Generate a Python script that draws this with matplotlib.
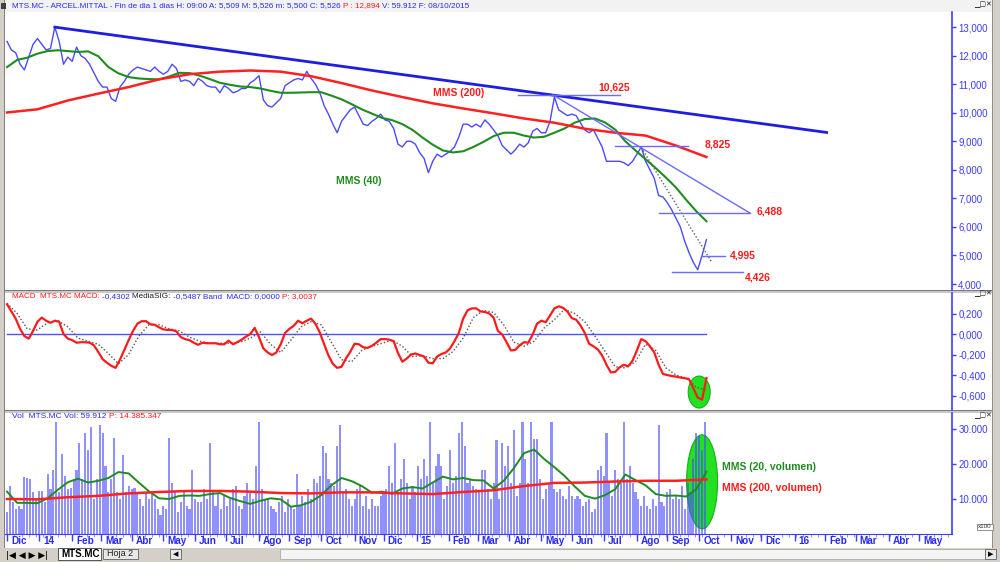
import numpy as np
import pandas as pd
import matplotlib
matplotlib.use('Agg')
import matplotlib.pyplot as plt
from matplotlib.patches import Rectangle, Ellipse
from matplotlib.transforms import offset_copy

plt.rcParams['font.family'] = ['Liberation Sans', 'DejaVu Sans']

# ---------------- data ----------------
start_date = '2013-12-02'          # first session shown
axis_end_date = '2016-06-30'

price_step = 3                     # sessions between price samples
price = [12.5, 12.2, 12.1, 11.7, 11.5, 11.95, 12.4, 12.6, 12.4, 12.2,
         12.25, 13.0, 12.5, 11.7, 11.95, 11.8, 12.3, 12.0, 11.9, 11.7,
         11.4, 11.1, 10.9, 10.9, 10.5, 10.4, 10.9, 11.1, 11.35, 11.5,
         11.6, 11.55, 11.5, 11.45, 11.6, 11.45, 11.35, 11.45, 11.7, 11.55,
         11.1, 11.15, 11.1, 10.95, 11.2, 11.1, 10.95, 10.9, 10.9, 10.7,
         10.95, 10.85, 10.7, 10.75, 10.85, 10.85, 11.05, 11.15, 11.3, 10.45,
         10.25, 10.2, 10.35, 10.5, 10.95, 11.05, 11.15, 11.2, 11.15, 11.45,
         11.2, 11.0, 10.7, 10.25, 9.95, 9.6, 9.3, 9.7, 9.9, 10.1,
         10.2, 9.9, 9.6, 9.55, 9.7, 9.8, 9.95, 9.75, 9.7, 9.45,
         8.9, 8.8, 9.0, 9.0, 8.9, 8.6, 8.4, 7.9, 8.3, 8.55,
         8.45, 8.55, 8.65, 8.8, 9.15, 9.6, 9.6, 9.5, 9.6, 9.5,
         9.75, 9.6, 9.4, 9.2, 8.85, 8.7, 8.55, 8.7, 8.9, 8.8,
         8.95, 9.35, 9.45, 9.3, 9.3, 9.7, 10.55, 10.1, 10.0, 9.9,
         9.95, 9.9, 9.65, 9.4, 9.3, 9.4, 9.1, 8.8, 8.3, 8.3,
         8.3, 8.3, 8.25, 8.15, 8.3, 8.55, 8.8, 8.3, 8.0, 7.7,
         7.1, 7.05, 6.85, 6.6, 6.3, 6.0, 5.5, 5.1, 4.75, 4.5,
         5.0, 5.55]

ma40_step = 7
ma40 = [11.6, 11.85, 11.93, 12.07, 12.16, 12.19, 12.16, 12.13, 12.15, 11.98,
        11.6, 11.38, 11.25, 11.2, 11.18, 11.17, 11.27, 11.4, 11.39, 11.3,
        11.18, 11.05, 10.98, 10.92, 10.9, 10.85, 10.77, 10.7, 10.7, 10.71,
        10.72, 10.72, 10.6, 10.47, 10.3, 10.12, 9.97, 9.82, 9.74, 9.6,
        9.4, 9.13, 8.88, 8.68, 8.61, 8.65, 8.8, 8.98, 9.18, 9.3,
        9.3, 9.2, 9.13, 9.16, 9.3, 9.45, 9.65, 9.78, 9.8, 9.66,
        9.41, 9.0, 8.68, 8.37, 8.06, 7.73, 7.38, 6.95, 6.55, 6.2]

ma200_step = 21
ma200 = [10.01, 10.12, 10.43, 10.67, 10.9, 11.17, 11.35, 11.44, 11.48, 11.44,
         11.28, 11.04, 10.78, 10.55, 10.33, 10.15, 9.98, 9.8, 9.65, 9.44,
         9.3, 9.2, 8.85, 8.45]

macd_step = 3
macd = [0.29, 0.22, 0.15, 0.05, -0.02, -0.045, 0.03, 0.12, 0.16, 0.13,
        0.11, 0.13, 0.12, 0.0, -0.045, -0.06, -0.085, -0.08, -0.08, -0.085,
        -0.11, -0.175, -0.245, -0.28, -0.31, -0.33, -0.25, -0.155, -0.06, 0.03,
        0.1, 0.125, 0.125, 0.095, 0.09, 0.065, 0.045, 0.04, 0.04, 0.025,
        -0.03, -0.05, -0.06, -0.085, -0.105, -0.085, -0.09, -0.09, -0.09, -0.1,
        -0.1, -0.065, -0.1, -0.08, -0.055, -0.025, 0.0, 0.06, -0.03, -0.14,
        -0.18, -0.205, -0.18, -0.1, 0.01, 0.05, 0.08, 0.13, 0.105, 0.13,
        0.15, 0.1, 0.015, -0.1, -0.21, -0.29, -0.33, -0.32, -0.24, -0.175,
        -0.095, -0.1, -0.13, -0.135, -0.115, -0.085, -0.05, -0.05, -0.055, -0.07,
        -0.185, -0.27, -0.24, -0.2, -0.19, -0.205, -0.22, -0.28, -0.285, -0.22,
        -0.195, -0.18, -0.14, -0.07, 0.01, 0.15, 0.23, 0.25, 0.25, 0.22,
        0.215, 0.2, 0.16, 0.03, -0.005, -0.08, -0.16, -0.155, -0.11, -0.08,
        -0.085, -0.005, 0.1, 0.13, 0.115, 0.18, 0.25, 0.27, 0.255, 0.22,
        0.155, 0.14, 0.085, 0.01, -0.095, -0.12, -0.15, -0.21, -0.3, -0.375,
        -0.37, -0.325, -0.3, -0.315, -0.26, -0.16, -0.05, -0.07, -0.12, -0.18,
        -0.3, -0.39, -0.4, -0.41, -0.415, -0.425, -0.43, -0.44, -0.53, -0.62,
        -0.64, -0.43]

signal_step = 7
macd_signal = [0.3, 0.2, 0.05, 0.04, 0.11, 0.13, 0.07, -0.04, -0.07, -0.1,
               -0.19, -0.29, -0.2, -0.02, 0.09, 0.09, 0.05, 0.03, -0.03, -0.07,
               -0.09, -0.09, -0.09, -0.08, -0.04, 0.02, -0.1, -0.18, -0.06, 0.07,
               0.12, 0.09, -0.08, -0.25, -0.27, -0.16, -0.12, -0.09, -0.06, -0.12,
               -0.22, -0.21, -0.24, -0.24, -0.17, -0.04, 0.16, 0.23, 0.21, 0.09,
               -0.08, -0.12, -0.07, 0.06, 0.14, 0.24, 0.2, 0.12, -0.02, -0.17,
               -0.32, -0.33, -0.27, -0.1, -0.16, -0.33, -0.4, -0.43, -0.52, -0.55]

vol_step = 2                       # volume in thousands of (x100) units
volume = [6.3, 13.7, 9.1, 7.2, 8.1, 7.2, 16.2, 16.0, 15.6, 11.9,
          10.0, 12.3, 12.3, 9.1, 17.0, 12.8, 18.4, 32, 11.9, 22.9,
          16.5, 12.8, 13.2, 15.6, 18.4, 26.0, 15.6, 28.8, 24.1, 30.6,
          10.0, 15.6, 31.1, 28.8, 19.4, 11.9, 15.6, 27.4, 11.9, 10.0,
          22.7, 11.9, 13.7, 12.8, 13.2, 11.9, 10.0, 8.1, 11.9, 10.0,
          11.9, 10.0, 7.2, 5.3, 8.1, 7.2, 27.4, 14.7, 11.9, 6.3,
          9.1, 11.9, 8.1, 7.2, 18.4, 10.0, 9.1, 9.1, 12.8, 10.0,
          26.0, 11.9, 8.1, 11.4, 7.2, 10.9, 8.1, 10.0, 12.8, 13.7,
          8.1, 7.2, 10.9, 14.7, 11.9, 10.0, 19.4, 32, 12.8, 10.0,
          10.0, 8.1, 7.2, 6.3, 9.1, 10.9, 6.3, 10.0, 8.1, 7.2,
          17.0, 8.1, 10.9, 9.1, 12.8, 10.0, 15.6, 14.7, 16.5, 25.0,
          23.2, 15.6, 14.7, 13.7, 25.0, 31.1, 11.9, 12.8, 10.0, 8.1,
          10.0, 12.8, 13.7, 8.1, 10.9, 7.2, 10.0, 8.1, 8.1, 10.9,
          11.9, 12.8, 19.4, 14.7, 26.0, 11.9, 15.6, 21.3, 14.7, 10.0,
          13.7, 11.9, 19.4, 15.6, 21.3, 16.5, 32, 14.7, 19.4, 22.9,
          19.4, 10.0, 13.7, 24.1, 14.7, 16.5, 28.8, 32, 25.0, 14.7,
          15.6, 13.7, 12.8, 11.9, 18.4, 18.4, 12.8, 10.0, 14.7, 26.8,
          10.0, 26.0, 19.4, 25.0, 14.7, 29.7, 10.9, 14.7, 32, 21.3,
          14.7, 32, 27.0, 27.0, 15.6, 10.0, 12.8, 14.7, 32, 12.8,
          11.9, 12.8, 10.9, 10.0, 13.7, 10.9, 10.0, 10.9, 10.0, 8.1,
          9.1, 10.0, 6.3, 7.2, 18.4, 19.4, 16.5, 28.8, 14.7, 10.9,
          18.4, 15.6, 14.7, 32, 15.6, 19.4, 14.7, 11.9, 10.0, 8.1,
          10.9, 8.1, 7.2, 10.0, 8.1, 31.1, 9.1, 8.1, 11.9, 12.8,
          10.0, 10.9, 10.0, 13.7, 7.2, 14.7, 11.9, 21.3, 28.8, 27.9,
          24.1, 32]

vol_ma20_step = 7
vol_ma20 = [12.1, 8.9, 8.9, 8.8, 10.2, 12.6, 14.8, 15.8, 14.7, 15.2,
            16.0, 17.7, 17.3, 14.7, 12.2, 10.2, 10.0, 10.9, 11.0, 10.9,
            11.4, 11.7, 10.3, 9.4, 8.6, 9.5, 10.2, 9.9, 7.8, 8.2,
            9.2, 11.1, 13.9, 16.0, 15.1, 13.7, 11.8, 12.1, 11.5, 13.0,
            13.4, 13.0, 14.7, 16.4, 15.6, 16.0, 15.4, 15.3, 13.0, 15.2,
            18.8, 23.1, 24.1, 21.4, 19.1, 16.6, 13.6, 10.9, 10.1, 11.1,
            12.8, 17.0, 15.4, 13.9, 11.4, 10.9, 11.0, 10.7, 12.8, 17.8]

vol_ma200_step = 21
vol_ma200 = [10.0, 9.9, 10.5, 10.9, 11.6, 12.0, 12.3, 12.3, 12.1, 11.7,
             11.6, 11.9, 11.9, 11.6, 11.4, 12.0, 12.5, 13.7, 14.6, 14.7,
             15.0, 15.2, 15.2, 15.6]

month_labels = ['Dic', '14', 'Feb', 'Mar', 'Abr', 'May', 'Jun', 'Jul', 'Ago', 'Sep',
                'Oct', 'Nov', 'Dic', '15', 'Feb', 'Mar', 'Abr', 'May', 'Jun', 'Jul',
                'Ago', 'Sep', 'Oct', 'Nov', 'Dic', '16', 'Feb', 'Mar', 'Abr', 'May']

price_ticks = [4, 5, 6, 7, 8, 9, 10, 11, 12, 13]
price_tick_labels = ['4,000', '5,000', '6,000', '7,000', '8,000', '9,000',
                     '10,000', '11,000', '12,000', '13,000']
macd_ticks = [0.2, 0.0, -0.2, -0.4, -0.6]
macd_tick_labels = ['0,200', '0,000', '-0,200', '-0,400', '-0,600']
vol_ticks = [10, 20, 30]
vol_tick_labels = ['10.000', '20.000', '30.000']

# trend lines: (start date, start value, end date, end value)
main_trend = ('2014-01-16', 13.0, '2016-02-02', 9.31)
fan_line = ('2015-05-13', 10.625, '2015-11-19', 6.488)
dotted_line = ('2015-08-06', 8.78, '2015-10-14', 4.74)
# support / resistance levels: value, label, start date, end date
level_values = [10.625, 8.825, 6.488, 4.995, 4.426]
level_labels = ['10,625', '8,825', '6,488', '4,995', '4,426']
level_starts = ['2015-04-09', '2015-07-13', '2015-08-24', '2015-10-02', '2015-09-04']
level_ends = ['2015-07-16', '2015-09-21', '2015-11-19', '2015-10-27', '2015-11-12']

# ---------------- figure ----------------
W, H = 1000, 562
fig = plt.figure(figsize=(10, 5.62), dpi=100, facecolor='#d4d0c8')
BLUE_TXT = '#2a2af0'
AX_BLUE = '#3c3cff'
RED = '#ff1a1a'

days = pd.bdate_range(start_date, axis_end_date)


def pos(d):
    return days.searchsorted(pd.Timestamp(d))


X0, X1 = -1.4, 652.6


def frac(x0, y0, x1, y1):
    return [x0 / W, 1 - y1 / H, (x1 - x0) / W, (y1 - y0) / H]


def frect(x0, y0, x1, y1, z=-5, **kw):
    fig.patches.append(Rectangle((x0 / W, 1 - y1 / H), (x1 - x0) / W, (y1 - y0) / H,
                                 transform=fig.transFigure, zorder=z, **kw))


def ftext(x, y, s, **kw):
    return fig.text(x / W, 1 - y / H, s, **kw)


# panels backgrounds
frect(5, 0, 993, 12, facecolor='#f2f2f2', edgecolor='none')
frect(5, 12, 993, 290, facecolor='white', edgecolor='none')
frect(5, 293, 993, 410, facecolor='white', edgecolor='none')
frect(5, 413, 993, 548, facecolor='white', edgecolor='none')
for yy in (290, 410):
    frect(5, yy, 993, yy + 3, facecolor='#c8c8c8', edgecolor='none')
    frect(5, yy, 993, yy + 1, facecolor='#7a7a7a', edgecolor='none')
frect(4, 0, 5, 548, facecolor='#808080', edgecolor='none')
frect(992, 0, 993, 548, facecolor='#909090', edgecolor='none')


def setup_axes(rect):
    ax = fig.add_axes(frac(*rect))
    ax.set_facecolor('none')
    ax.set_xlim(X0, X1)
    for s in ('top', 'bottom', 'left'):
        ax.spines[s].set_visible(False)
    ax.spines['right'].set_color(AX_BLUE)
    ax.spines['right'].set_linewidth(1.2)
    ax.yaxis.tick_right()
    ax.tick_params(axis='y', colors=AX_BLUE, labelsize=7, length=3, width=1,
                   direction='out', pad=1.5)
    ax.tick_params(axis='x', bottom=False, labelbottom=False)
    return ax


ax1 = setup_axes((5, 12, 952, 290))
ax2 = setup_axes((5, 293, 952, 410))
ax3 = setup_axes((5, 413, 952, 534))

# ---------------- price panel ----------------
ax1.set_ylim(3.79, 13.53)
ax1.set_yticks(price_ticks)
ax1.set_yticklabels(price_tick_labels)
ax1.plot(np.arange(len(price)) * price_step, price, color='#4a4aff', lw=1.0, zorder=3)
ax1.plot(np.arange(len(ma40)) * ma40_step, ma40, color='#1e8c1e', lw=1.5, zorder=4)
ax1.plot(np.arange(len(ma200)) * ma200_step, ma200, color='#ff2020', lw=1.8, zorder=4)

d0, v0, d1, v1 = main_trend
ax1.plot([pos(d0), pos(d1)], [v0, v1], color='#1e1ee0', lw=2.0, zorder=5)
d0, v0, d1, v1 = fan_line
ax1.plot([pos(d0), pos(d1)], [v0, v1], color='#6a6aff', lw=1.0, zorder=5)
d0, v0, d1, v1 = dotted_line
ax1.plot([pos(d0), pos(d1)], [v0, v1], color='#606070', lw=1.0,
         linestyle=(0, (1, 1.5)), zorder=5)
for v, s, e in zip(level_values, level_starts, level_ends):
    ax1.plot([pos(s), pos(e)], [v, v], color='#6a6aff', lw=1.0, zorder=5)

lab_font = dict(color=RED, fontsize=7.5, weight='bold', va='center', ha='left')
ftext(598, 87, level_labels[0], **lab_font)
ftext(705, 144, level_labels[1], **lab_font)
ftext(757, 211, level_labels[2], **lab_font)
ftext(730, 256, level_labels[3], **lab_font)
ftext(745, 277, level_labels[4], **lab_font)
ftext(433, 93, 'MMS (200)', **lab_font)
ftext(336, 181, 'MMS (40)', color='#1e8c1e', fontsize=7.5, weight='bold',
      va='center', ha='left')

# ---------------- MACD panel ----------------
ax2.set_ylim(-0.741, 0.4)
ax2.set_yticks(macd_ticks)
ax2.set_yticklabels(macd_tick_labels)
last = (len(price) - 1) * price_step
ax2.plot([0, last], [0, 0], color='#5050ff', lw=1.0, zorder=2)
ax2.add_patch(Ellipse((pos('2015-10-02') - 1, -0.566), 15.2, 0.312,
                      facecolor='#22e022', edgecolor='#18b018', lw=0.8, zorder=1))
ax2.plot(np.arange(len(macd_signal)) * signal_step, macd_signal, color='#555555',
         lw=1.0, linestyle=(0, (1, 1.5)), zorder=3)
ax2.plot(np.arange(len(macd)) * macd_step, macd, color='#ff1a1a', lw=1.6, zorder=4)

# ---------------- volume panel ----------------
ax3.set_ylim(0, 34.57)
ax3.set_yticks(vol_ticks)
ax3.set_yticklabels(vol_tick_labels)
ax3.add_patch(Ellipse((pos('2015-10-05'), 14.9), 21.4, 26.9,
                      facecolor='#22e022', edgecolor='#18b018', lw=0.8, zorder=1))
ax3.bar(np.arange(len(volume)) * vol_step, volume, width=1.45, color='#4c4cff',
        alpha=0.62, linewidth=0, zorder=2)
ax3.plot(np.arange(len(vol_ma20)) * vol_ma20_step, vol_ma20, color='#1e8c1e',
         lw=1.4, zorder=4)
ax3.plot(np.arange(len(vol_ma200)) * vol_ma200_step, vol_ma200, color='#ff2020',
         lw=1.8, zorder=4)
ftext(722, 467, 'MMS (20, volumen)', color='#1e8c1e', fontsize=7.5, weight='bold',
      va='center', ha='left')
ftext(722, 488, 'MMS (200, volumen)', color=RED, fontsize=7.5, weight='bold',
      va='center', ha='left')

# date axis
ax3.spines['bottom'].set_visible(True)
ax3.spines['bottom'].set_color(AX_BLUE)
month_starts = pd.date_range('2013-12-01', periods=len(month_labels), freq='MS')
mpos = [pos(m) for m in month_starts]
ax3.set_xticks(mpos)
ax3.set_xticks(np.arange(0, 653, 5), minor=True)
ax3.tick_params(axis='x', which='major', bottom=True, labelbottom=False,
                length=5, width=1, color=AX_BLUE, direction='out')
ax3.tick_params(axis='x', which='minor', bottom=True, length=2, width=0.6,
                color='#8080ff', direction='out')
tr = offset_copy(ax3.get_xaxis_transform(), fig=fig, x=4, y=-7.5, units='dots')
for p, lab in zip(mpos, month_labels):
    ax3.text(p, 0, lab, transform=tr, color=BLUE_TXT, fontsize=7.2,
             weight='bold', ha='left', va='center', clip_on=False)

# x100 box
ftext(985, 527, 'x100', color='#303030', fontsize=4.5, ha='center', va='center',
      bbox=dict(boxstyle='square,pad=0.15', facecolor='white', edgecolor='#808080', lw=0.6))

# ---------------- header texts ----------------
renderer = fig.canvas.get_renderer()


def seg_text(x, y, segs, size):
    for s, c in segs:
        t = ftext(x, y, s, color=c, fontsize=size, va='center', ha='left')
        x += t.get_window_extent(renderer=renderer).width


seg_text(12, 6, [('MTS.MC - ARCEL.MITTAL - Fin de dia 1 dias H: 09:00 A: 5,509 M: 5,526 m: 5,500 C: 5,526 ', BLUE_TXT),
                 ('P : 12,894 ', RED), ('V: 59.912 F: 08/10/2015', BLUE_TXT)], 5.85)
seg_text(12, 297, [('MACD  MTS.MC MACD: ', RED), ('-0,4302 ', BLUE_TXT), ('MediaSIG: ', '#202020'),
                   ('-0,5487 ', BLUE_TXT), ('Band  MACD: 0,0000 ', BLUE_TXT), ('P: 3,0037', RED)], 5.9)
seg_text(12, 416, [('Vol  MTS.MC Vol: 59.912 ', BLUE_TXT), ('P: 14.385.347', RED)], 6.0)
frect(1, 3, 6, 9, z=2, facecolor='#404040', edgecolor='none')

# window buttons
for yb in (5, 294, 416):
    ftext(983, yb, '▁▢✕', color='#202020', fontsize=5, ha='center', va='center',
          family=['DejaVu Sans'])

# ---------------- bottom tab bar ----------------
frect(0, 548, 1000, 562, z=1, facecolor='#d4d0c8', edgecolor='none')
ftext(6, 555, '|◀ ◀ ▶ ▶|', color='black', fontsize=6.5, ha='left', va='center',
      family=['DejaVu Sans'])
frect(58, 548, 101, 560, z=2, facecolor='white', edgecolor='#404040', lw=0.6)
ftext(61, 554, 'MTS.MC', color='black', fontsize=7, weight='bold', ha='left', va='center')
frect(103, 549, 138, 559, z=2, facecolor='#e8e8e8', edgecolor='#606060', lw=0.6)
ftext(107, 554, 'Hoja 2', color='#202020', fontsize=6.5, ha='left', va='center')
frect(170, 549, 181, 559, z=2, facecolor='#e8e8e8', edgecolor='#606060', lw=0.6)
ftext(175.5, 554, '◀', color='black', fontsize=5, ha='center', va='center',
      family=['DejaVu Sans'])
frect(280, 549, 985, 559, z=2, facecolor='#f4f4f4', edgecolor='#a0a0a0', lw=0.5)
frect(985, 549, 996, 559, z=2, facecolor='#e8e8e8', edgecolor='#606060', lw=0.6)
ftext(990.5, 554, '▶', color='black', fontsize=5, ha='center', va='center',
      family=['DejaVu Sans'])

fig.savefig('out.png', dpi=100, facecolor=fig.get_facecolor())
